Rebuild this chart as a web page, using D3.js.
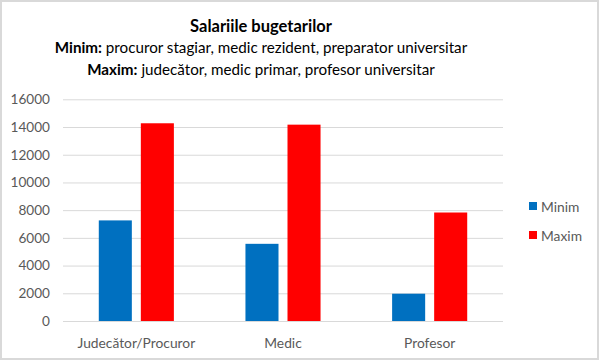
<!DOCTYPE html>
<html><head><meta charset="utf-8">
<script src="https://cdn.jsdelivr.net/npm/d3@7"></script>
<style>body{margin:0;background:#fff}svg{display:block}text{font-family:Lato,"Open Sans",sans-serif}</style>
</head><body><svg id="c" width="600" height="361"></svg>
<script>
const categories = ["Judecător/Procuror", "Medic", "Profesor"];
const seriesNames = ["Minim", "Maxim"];
const minim = [7260, 5570, 1970];
const maxim = [14270, 14170, 7830];
const yTicks = [0, 2000, 4000, 6000, 8000, 10000, 12000, 14000, 16000];
const colors = ["#0070C0", "#FF0000"];

const svg = d3.select("#c");
svg.append("rect").attr("x",1).attr("y",1).attr("width",597).attr("height",358)
  .attr("fill","#fff").attr("stroke","#d9d9d9").attr("stroke-width",2);

const L=63,R=503,T=99.3,B=321;
const y = d3.scaleLinear().domain([0,16000]).range([B,T]);
const x0 = d3.scaleBand().domain(categories).range([L,R]).padding(0);
const bw = x0.bandwidth();
const x1 = d3.scaleBand().domain(seriesNames).range([bw*0.244, bw*0.756]).paddingInner(0.214).paddingOuter(0);

const yAxis = d3.axisLeft(y).tickValues(yTicks).tickSize(-(R-L)).tickPadding(13).tickFormat(d3.format("d"));
const ga = svg.append("g").attr("transform",`translate(${L},0)`).call(yAxis);
ga.select(".domain").remove();
ga.selectAll(".tick line").attr("stroke","#d9d9d9").attr("stroke-width",1);
ga.selectAll(".tick text").attr("fill","#595959").style("font-size","13.6px");

const data = categories.map((c,i)=>({c, vals:[minim[i], maxim[i]]}));
const g = svg.append("g");
data.forEach(d=>{
  g.selectAll(null).data(d.vals).enter().append("rect")
   .attr("x",(v,j)=>x0(d.c)+x1(seriesNames[j]))
   .attr("width",x1.bandwidth())
   .attr("y",v=>y(v)).attr("height",v=>B-y(v))
   .attr("fill",(v,j)=>colors[j]);
});

const xAxis = d3.axisBottom(x0).tickSize(0).tickPadding(17);
const gx = svg.append("g").attr("transform",`translate(0,${B})`).call(xAxis);
gx.select(".domain").remove();
gx.selectAll(".tick text").attr("fill","#595959").style("font-size","13.8px");

// title
const cx = 261;
svg.append("text").attr("x",cx).attr("y",32).attr("text-anchor","middle")
  .style("font-size","16.5px").style("font-weight","bold").attr("fill","#000").text("Salariile bugetarilor");
const s1 = svg.append("text").attr("x",cx).attr("y",53).attr("text-anchor","middle").style("font-size","15.2px").attr("fill","#000");
s1.append("tspan").style("font-weight","bold").text("Minim:");
s1.append("tspan").text(" procuror stagiar, medic rezident, preparator universitar");
const s2 = svg.append("text").attr("x",cx).attr("y",75).attr("text-anchor","middle").style("font-size","15.2px").attr("fill","#000");
s2.append("tspan").style("font-weight","bold").text("Maxim:");
s2.append("tspan").text(" judecător, medic primar, profesor universitar");

// legend
const lg = svg.append("g");
seriesNames.forEach((s,i)=>{
  const yy = 202 + i*29;
  lg.append("rect").attr("x",529).attr("y",yy).attr("width",8).attr("height",8).attr("fill",colors[i]);
  lg.append("text").attr("x",541).attr("y",yy+9.5).style("font-size","13.8px").attr("fill","#595959").text(s);
});
</script></body></html>
